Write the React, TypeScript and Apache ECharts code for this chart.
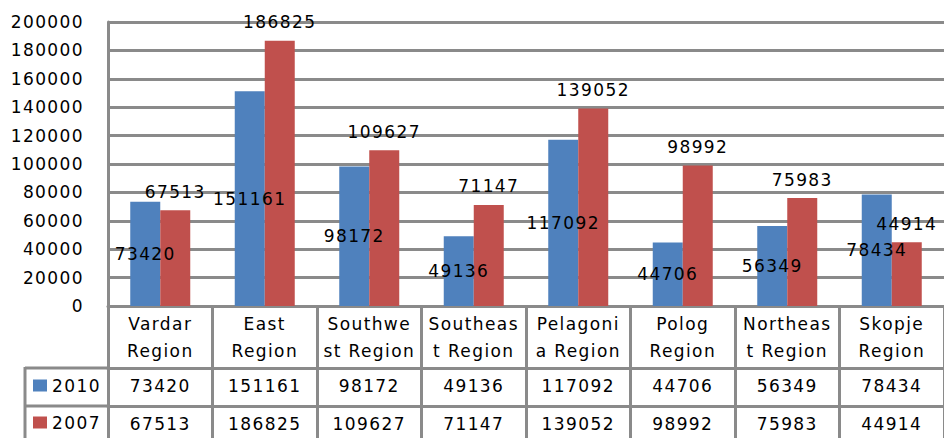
import React, { useEffect, useRef } from "react";
import * as echarts from "echarts";

const categories = ["Vardar Region", "East Region", "Southwest Region", "Southeast Region", "Pelagonia Region", "Polog Region", "Northeast Region", "Skopje Region"];
const categoryLabels = ["Vardar\nRegion", "East\nRegion", "Southwe\nst Region", "Southeas\nt Region", "Pelagoni\na Region", "Polog\nRegion", "Northeas\nt Region", "Skopje\nRegion"];
const values2010 = [73420, 151161, 98172, 49136, 117092, 44706, 56349, 78434];
const values2007 = [67513, 186825, 109627, 71147, 139052, 98992, 75983, 44914];
const seriesNames = ["2010", "2007"];

const FONT = "DejaVu Sans";
const GRAY = "#8a8a8a";
const BLUE = "#4F81BD";
const RED = "#C0504D";

export default function App() {
  const ref = useRef<HTMLDivElement>(null);
  useEffect(() => {
    const chart = echarts.init(ref.current!, null, { renderer: "svg" });
    const txt = { fontFamily: FONT, fontSize: 17, color: "#000" };
    const legendBase = {
      left: 33,
      icon: "rect",
      itemWidth: 14,
      itemHeight: 12,
      padding: 0,
      textStyle: { ...txt },
    };
    chart.setOption({
      animation: false,
      grid: { left: 108, right: 0, top: 22, bottom: 132, containLabel: false },
      legend: [
        { ...legendBase, data: [seriesNames[0]], top: 377 },
        { ...legendBase, data: [seriesNames[1]], top: 414 },
      ],
      xAxis: [
        {
          type: "category",
          data: categories,
          position: "bottom",
          axisLine: { show: true, lineStyle: { color: GRAY, width: 3 } },
          axisTick: { show: true, interval: 0, length: 134, lineStyle: { color: GRAY, width: 3 } },
          axisLabel: {
            interval: 0,
            margin: 4,
            ...txt,
            lineHeight: 27,
            formatter: (_v: string, i: number) => categoryLabels[i],
          },
          splitLine: { show: false },
        },
        {
          type: "category",
          data: values2010.map(String),
          position: "bottom",
          offset: 62,
          axisLine: { show: true, lineStyle: { color: GRAY, width: 3 } },
          axisTick: { show: false },
          axisLabel: { interval: 0, margin: 9, ...txt },
          splitLine: { show: false },
        },
        {
          type: "category",
          data: values2007.map(String),
          position: "bottom",
          offset: 100,
          axisLine: { show: true, lineStyle: { color: GRAY, width: 3 } },
          axisTick: { show: false },
          axisLabel: { interval: 0, margin: 9, ...txt },
          splitLine: { show: false },
        },
      ],
      yAxis: {
        type: "value",
        min: 0,
        max: 200000,
        interval: 20000,
        axisLine: { show: true, lineStyle: { color: GRAY, width: 3 } },
        axisTick: { show: false },
        axisLabel: { margin: 24, ...txt, formatter: (v: number) => String(v) },
        splitLine: { show: true, lineStyle: { color: GRAY, width: 3 } },
      },
      series: [
        {
          name: seriesNames[0],
          type: "bar",
          data: values2010,
          xAxisIndex: 0,
          barWidth: 30,
          barGap: "0%",
          itemStyle: { color: BLUE },
          label: { show: true, position: "inside", ...txt },
          z: 2,
        },
        {
          name: seriesNames[1],
          type: "bar",
          data: values2007,
          xAxisIndex: 0,
          barWidth: 30,
          barGap: "0%",
          itemStyle: { color: RED },
          label: { show: true, position: "top", distance: 10, ...txt },
          z: 2,
        },
      ],
      graphic: [
        { type: "line", shape: { x1: 25, y1: 368, x2: 108, y2: 368 }, style: { stroke: GRAY, lineWidth: 3 } },
        { type: "line", shape: { x1: 25, y1: 406, x2: 108, y2: 406 }, style: { stroke: GRAY, lineWidth: 3 } },
        { type: "line", shape: { x1: 25, y1: 367, x2: 25, y2: 440 }, style: { stroke: GRAY, lineWidth: 3 } },
      ],
    });
    return () => chart.dispose();
  }, []);
  return (
    <>
      <style>{"svg text{letter-spacing:1.4px}"}</style>
      <div ref={ref} style={{ position: "fixed", left: 0, top: 0, width: 944, height: 438, background: "#fff" }} />
    </>
  );
}
